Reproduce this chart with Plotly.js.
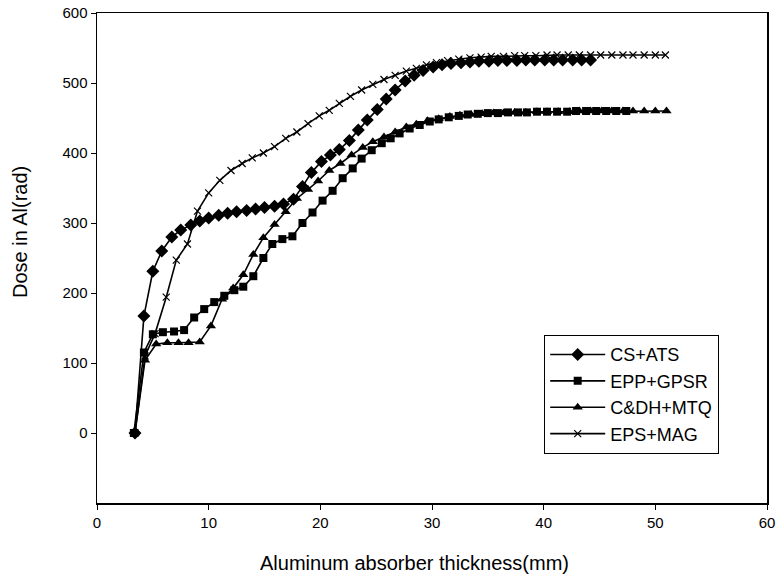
<!DOCTYPE html>
<html>
<head>
<meta charset="utf-8">
<script src="https://cdn.plot.ly/plotly-3.0.1.min.js"></script>
<style>html,body{margin:0;padding:0;background:#fff;}#chart{width:781px;height:578px;}</style>
</head>
<body>
<div id="chart"></div>
<script>
// CS+ATS (diamonds)
const csatsX = [3.4, 4.2, 5.0, 5.8, 6.7, 7.5, 8.4, 9.2, 10.0, 10.9, 11.7, 12.5, 13.4, 14.2, 15.0, 15.9, 16.7, 17.6, 18.4, 19.2, 20.1, 20.9, 21.7, 22.6, 23.4, 24.2, 25.1, 25.9, 26.7, 27.6, 28.4, 29.2, 30.1, 30.9, 31.7, 32.6, 33.4, 34.2, 35.1, 35.9, 36.7, 37.6, 38.4, 39.2, 40.1, 40.9, 41.7, 42.6, 43.4, 44.2];
const csatsY = [0, 167, 231, 260, 280, 290, 297, 303, 307, 311, 314, 316, 318, 320, 322, 324, 327, 334, 352, 372, 388, 397, 405, 418, 433, 447, 462, 477, 490, 503, 511, 518, 523, 526, 528, 529, 530, 531, 531, 532, 532, 532, 533, 533, 533, 533, 533, 533, 533, 533];

// EPP+GPSR (squares)
const eppX = [3.3, 4.2, 5.0, 5.9, 6.9, 7.8, 8.7, 9.6, 10.5, 11.4, 12.3, 13.1, 14.0, 14.9, 15.7, 16.6, 17.5, 18.4, 19.3, 20.2, 21.1, 22.0, 22.9, 23.7, 24.6, 25.5, 26.3, 27.1, 28.0, 28.9, 29.8, 30.6, 31.5, 32.4, 33.2, 34.1, 35.0, 35.9, 36.8, 37.7, 38.5, 39.4, 40.3, 41.2, 42.1, 42.9, 43.8, 44.7, 45.6, 46.5, 47.4];
const eppY = [0, 115, 141, 144, 145, 147, 165, 177, 187, 196, 204, 209, 224, 250, 270, 277, 281, 300, 315, 332, 346, 364, 378, 392, 404, 414, 421, 428, 435, 440, 445, 448, 451, 453, 455, 456, 457, 457, 458, 458, 458, 459, 459, 459, 459, 460, 460, 460, 460, 460, 460];

// C&DH+MTQ (triangles)
const cdhX = [3.4, 4.3, 5.3, 6.3, 7.3, 8.2, 9.2, 10.2, 11.2, 12.2, 13.1, 14.0, 14.9, 15.9, 16.9, 17.9, 18.9, 19.8, 20.8, 21.8, 22.8, 23.8, 24.7, 25.7, 26.7, 27.7, 28.6, 29.6, 30.6, 31.6, 32.5, 33.5, 34.5, 35.5, 36.4, 37.4, 38.4, 39.4, 40.3, 41.3, 42.3, 43.2, 44.2, 45.2, 46.1, 47.1, 48.0, 49.0, 50.0, 51.0];
const cdhY = [0, 104, 127, 129, 129, 129, 130, 153, 191, 207, 226, 255, 279, 298, 316, 335, 348, 360, 375, 385, 397, 408, 416, 423, 430, 437, 441, 446, 449, 452, 454, 455, 456, 457, 457, 458, 458, 459, 459, 459, 459, 460, 460, 460, 460, 460, 460, 460, 460, 460];

// EPS+MAG (crosses)
const epsX = [3.4, 4.3, 5.2, 6.2, 7.1, 8.1, 9.0, 10.0, 11.0, 12.0, 13.0, 13.9, 14.9, 15.9, 16.9, 17.9, 18.9, 19.9, 20.8, 21.7, 22.7, 23.7, 24.7, 25.7, 26.7, 27.7, 28.6, 29.5, 30.4, 31.4, 32.4, 33.4, 34.4, 35.3, 36.4, 37.4, 38.3, 39.3, 40.3, 41.2, 42.2, 43.2, 44.2, 45.1, 46.1, 47.1, 48.0, 49.0, 50.0, 50.9];
const epsY = [0, 110, 142, 194, 247, 270, 317, 343, 361, 375, 385, 393, 400, 409, 421, 430, 442, 453, 461, 471, 481, 490, 498, 505, 511, 517, 521, 526, 529, 532, 534, 536, 537, 538, 538, 539, 539, 539, 540, 540, 540, 540, 540, 540, 540, 540, 540, 540, 540, 540];

const seriesNames = ["CS+ATS", "EPP+GPSR", "C&DH+MTQ", "EPS+MAG"];
const xTicks = [0, 10, 20, 30, 40, 50, 60];
const yTicks = [0, 100, 200, 300, 400, 500, 600];
const xTitle = "Aluminum absorber thickness(mm)";
const yTitle = "Dose in Al(rad)";

const lineStyle = {color: "#000", width: 1.6};
const traces = [
  {x: csatsX, y: csatsY, name: seriesNames[0], mode: "lines+markers", line: lineStyle,
   marker: {symbol: "diamond", size: 10, color: "#000"}},
  {x: eppX, y: eppY, name: seriesNames[1], mode: "lines+markers", line: lineStyle,
   marker: {symbol: "square", size: 8, color: "#000"}},
  {x: cdhX, y: cdhY, name: seriesNames[2], mode: "lines+markers", line: lineStyle,
   marker: {symbol: "triangle-up", size: 9, color: "#000"}},
  {x: epsX, y: epsY, name: seriesNames[3], mode: "lines+markers", line: lineStyle,
   marker: {symbol: "x-thin", size: 7, color: "#000", line: {color: "#000", width: 1.2}}}
];

const fam = "Liberation Sans, Arial, sans-serif";
const layout = {
  width: 781, height: 578,
  margin: {l: 97, r: 14, t: 13, b: 75},
  paper_bgcolor: "#fff", plot_bgcolor: "#fff",
  font: {family: fam, size: 15, color: "#000"},
  showlegend: true,
  legend: {x: 0.667, y: 0.343, xanchor: "left", yanchor: "top",
    bordercolor: "#000", borderwidth: 1.3, bgcolor: "#fff",
    font: {family: fam, size: 18, color: "#000"},
    itemwidth: 55, entrywidth: 183, entrywidthmode: "pixels",
    tracegroupgap: 0},
  xaxis: {range: [0, 60], tickvals: xTicks, ticktext: xTicks.map(String),
    showgrid: false, zeroline: false, showline: true, linecolor: "#000", linewidth: 1.5,
    mirror: true, ticks: "outside", ticklen: 5, tickcolor: "#000"},
  yaxis: {range: [-100, 600], tickvals: yTicks, ticktext: yTicks.map(String),
    showgrid: false, zeroline: false, showline: true, linecolor: "#000", linewidth: 1.5,
    mirror: true, ticks: "outside", ticklen: 5, tickcolor: "#000"},
  annotations: [
    {text: xTitle, xref: "paper", yref: "paper", x: 0.474, y: 0, xanchor: "center", yanchor: "middle",
     yshift: -60, showarrow: false, font: {family: fam, size: 20, color: "#000"}},
    {text: yTitle, xref: "paper", yref: "paper", x: 0, y: 0.553, xanchor: "center", yanchor: "middle",
     xshift: -77, textangle: -90, showarrow: false, font: {family: fam, size: 20, color: "#000"}}
  ]
};
Plotly.newPlot("chart", traces, layout, {displayModeBar: false, staticPlot: true});
</script>
</body>
</html>
